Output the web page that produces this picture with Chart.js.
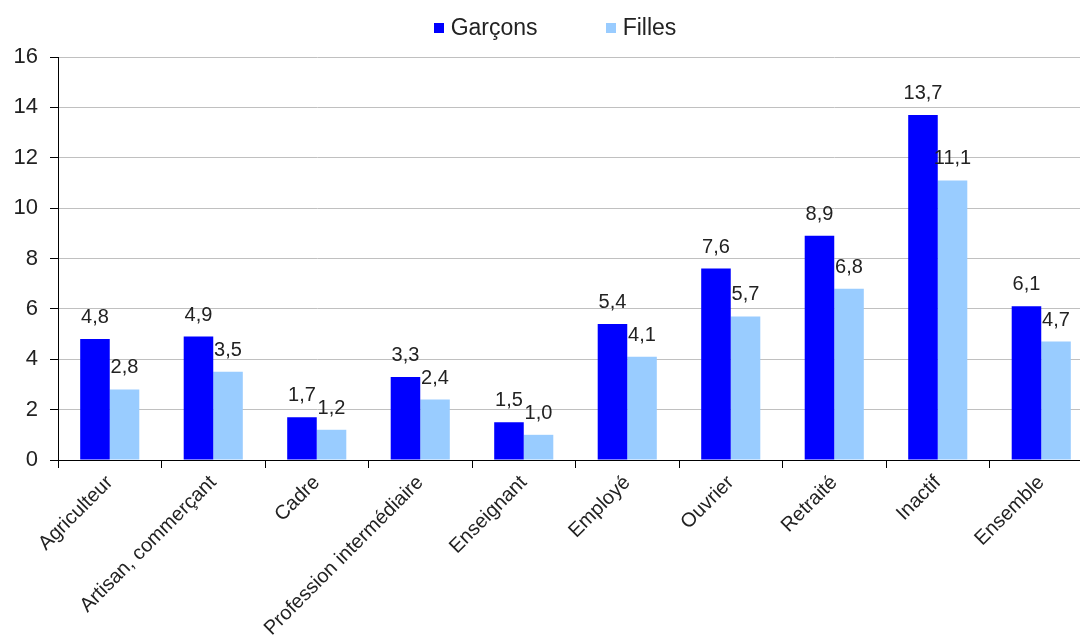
<!DOCTYPE html>
<html lang="fr">
<head>
    <meta charset="UTF-8">
    <title>Garçons / Filles</title>
    <script src="https://cdn.jsdelivr.net/npm/chart.js"></script>
    <style>
        html, body { margin: 0; padding: 0; background: #fff; overflow: hidden; }
        #wrap { position: relative; width: 1093px; height: 636px; }
        #legend {
            position: absolute; top: 14px; left: 0; width: 1080px;
            display: flex; justify-content: center; gap: 68px;
            font: 23px Arial, "Liberation Sans", sans-serif; color: #222;
            padding-left: 30px; box-sizing: border-box;
        }
        #legend span.item { display: flex; align-items: center; }
        #legend span.box { display: inline-block; width: 10px; height: 10px; margin-right: 7px; }
    </style>
</head>
<body>
    <div id="wrap">
        <canvas id="chart"></canvas>
        <div id="legend"></div>
    </div>

    <script>
        const categories = ['Agriculteur', 'Artisan, commerçant', 'Cadre', 'Profession intermédiaire',
            'Enseignant', 'Employé', 'Ouvrier', 'Retraité', 'Inactif', 'Ensemble'];
        const seriesNames = ['Garçons', 'Filles'];
        const seriesColors = ['#0000ff', '#99ccff'];
        const garcons = [4.8, 4.9, 1.7, 3.3, 1.5, 5.4, 7.6, 8.9, 13.7, 6.1];
        const filles = [2.8, 3.5, 1.2, 2.4, 1.0, 4.1, 5.7, 6.8, 11.1, 4.7];
        const yTicks = [0, 2, 4, 6, 8, 10, 12, 14, 16];

        const font = 'Arial, "Liberation Sans", sans-serif';

        // value labels above each bar, french decimal comma
        const barLabels = {
            id: 'barLabels',
            afterDatasetsDraw(chart) {
                const ctx = chart.ctx;
                ctx.save();
                ctx.font = '20px ' + font;
                ctx.fillStyle = '#222';
                ctx.textAlign = 'center';
                ctx.textBaseline = 'alphabetic';
                chart.data.datasets.forEach((ds, i) => {
                    chart.getDatasetMeta(i).data.forEach((bar, j) => {
                        const txt = ds.data[j].toFixed(1).replace('.', ',');
                        ctx.fillText(txt, bar.x, bar.y - 16);
                    });
                });
                ctx.restore();
            }
        };

        const chart = new Chart(document.getElementById('chart'), {
            type: 'bar',
            data: {
                labels: categories,
                datasets: [{
                    label: seriesNames[0],
                    data: garcons,
                    backgroundColor: seriesColors[0]
                }, {
                    label: seriesNames[1],
                    data: filles,
                    backgroundColor: seriesColors[1]
                }]
            },
            options: {
                responsive: true,
                maintainAspectRatio: false,
                animation: false,
                datasets: {
                    bar: { categoryPercentage: 0.571, barPercentage: 1.0 }
                },
                layout: { padding: { left: 0, top: 57, right: 0, bottom: 0 } },
                plugins: {
                    tooltip: { enabled: false },
                    legend: { display: false }
                },
                scales: {
                    x: {
                        afterFit(scale) { scale.height = 176; },
                        grid: {
                            offset: true,
                            drawOnChartArea: false,
                            tickLength: 8,
                            tickColor: '#000'
                        },
                        border: { color: '#000', width: 1 },
                        ticks: {
                            autoSkip: false,
                            maxRotation: 45,
                            minRotation: 45,
                            color: '#222',
                            font: { family: font, size: 20 }
                        }
                    },
                    y: {
                        min: 0,
                        max: 16,
                        afterFit(scale) { scale.width = 58; },
                        afterBuildTicks(axis) {
                            axis.ticks = yTicks.map(v => ({ value: v }));
                        },
                        grid: {
                            color: '#c0c0c0',
                            tickColor: '#000',
                            tickLength: 8
                        },
                        border: { color: '#000', width: 1 },
                        ticks: {
                            color: '#222',
                            padding: 12,
                            font: { family: font, size: 22 }
                        }
                    }
                }
            },
            plugins: [barLabels]
        });

        // html legend built from the chart's datasets
        const legend = document.getElementById('legend');
        chart.data.datasets.forEach(ds => {
            const item = document.createElement('span');
            item.className = 'item';
            item.innerHTML = '<span class="box" style="background:' + ds.backgroundColor + '"></span>' + ds.label;
            legend.appendChild(item);
        });
    </script>
</body>
</html>
